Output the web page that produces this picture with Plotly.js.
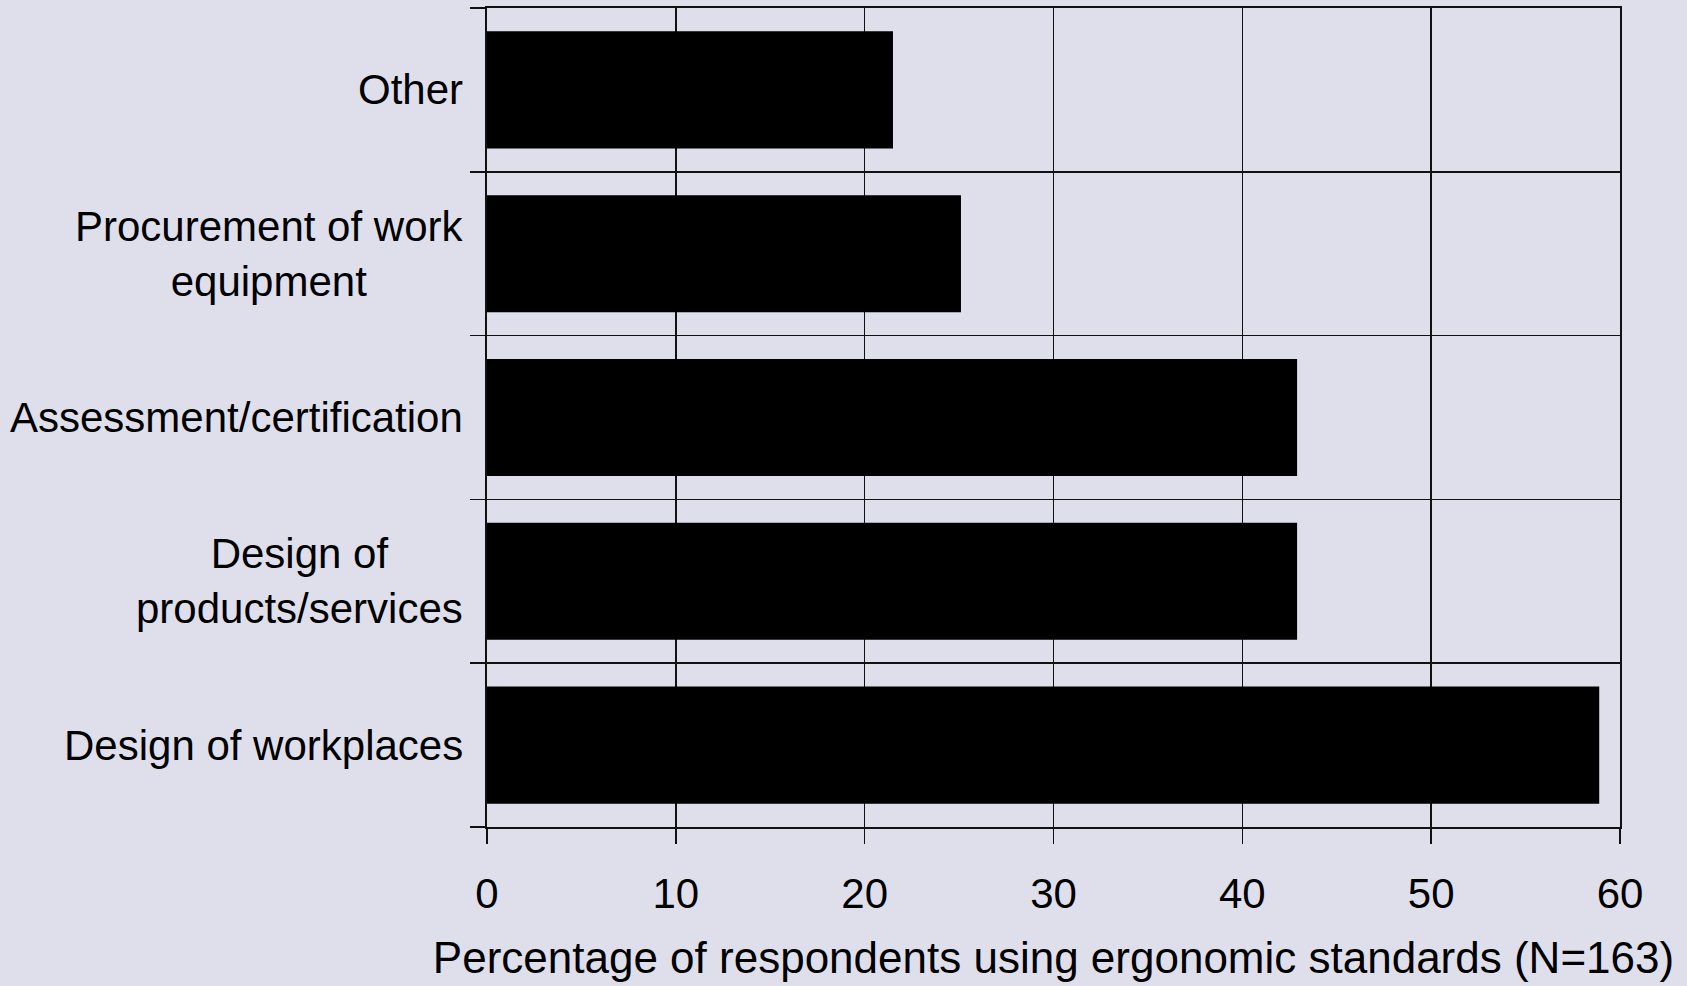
<!DOCTYPE html>
<html>
<head>
<meta charset="utf-8">
<script src="https://cdn.plot.ly/plotly-3.0.1.min.js"></script>
<style>
  html, body { margin: 0; padding: 0; background: #dfdfec; }
  #chart { width: 1687px; height: 986px; }
</style>
</head>
<body>
<div id="chart"></div>
<script>
// Categories listed bottom to top
const categories = [
  'Design of workplaces',
  'Design of<br>products/services',
  'Assessment/certification',
  'Procurement of work<br>equipment',
  'Other'
];
const percentages = [58.9, 42.9, 42.9, 25.1, 21.5];
const xTickValues = [0, 10, 20, 30, 40, 50, 60];
const xAxisTitle = 'Percentage of respondents using ergonomic standards (N=163)';

const bg = '#dfdfec';
const lineColor = '#111111';
const fontFamily = 'Liberation Sans, Arial, sans-serif';

const trace = {
  type: 'bar',
  orientation: 'h',
  x: percentages,
  y: categories,
  marker: { color: '#000000', line: { width: 0 } },
  hoverinfo: 'x+y'
};

// Category labels drawn as centre-aligned text blocks, right-anchored next to the axis
const labelAnnotations = categories.map(c => ({
  xref: 'paper',
  yref: 'y',
  x: 0,
  y: c,
  text: c,
  showarrow: false,
  xanchor: 'right',
  yanchor: 'middle',
  align: 'center',
  xshift: -22,
  font: { size: 42, family: fontFamily, color: '#000' }
}));

const layout = {
  width: 1687,
  height: 986,
  paper_bgcolor: bg,
  plot_bgcolor: bg,
  margin: { l: 487, r: 67, t: 8, b: 159, pad: 0 },
  bargap: 0.285,
  showlegend: false,
  font: { family: fontFamily, color: '#000000' },
  annotations: labelAnnotations,
  xaxis: {
    range: [0, 60],
    tickvals: xTickValues,
    ticktext: xTickValues.map(String),
    ticks: 'outside',
    ticklen: 15,
    tickwidth: 1.5,
    tickcolor: lineColor,
    tickfont: { size: 42, family: fontFamily, color: '#000' },
    ticklabelstandoff: 14,
    showgrid: true,
    gridcolor: lineColor,
    gridwidth: 1.5,
    showline: true,
    linecolor: lineColor,
    linewidth: 2,
    mirror: true,
    zeroline: false,
    fixedrange: true,
    title: {
      text: xAxisTitle,
      font: { size: 44, family: fontFamily, color: '#000' },
      standoff: 26
    }
  },
  yaxis: {
    type: 'category',
    categoryorder: 'array',
    categoryarray: categories,
    tickson: 'boundaries',
    ticks: 'outside',
    ticklen: 15,
    tickwidth: 1.5,
    tickcolor: lineColor,
    showticklabels: false,
    showgrid: true,
    gridcolor: lineColor,
    gridwidth: 1.5,
    showline: true,
    linecolor: lineColor,
    linewidth: 2,
    mirror: true,
    zeroline: false,
    fixedrange: true
  }
};

Plotly.newPlot('chart', [trace], layout, { displayModeBar: false, staticPlot: true });
</script>
</body>
</html>
